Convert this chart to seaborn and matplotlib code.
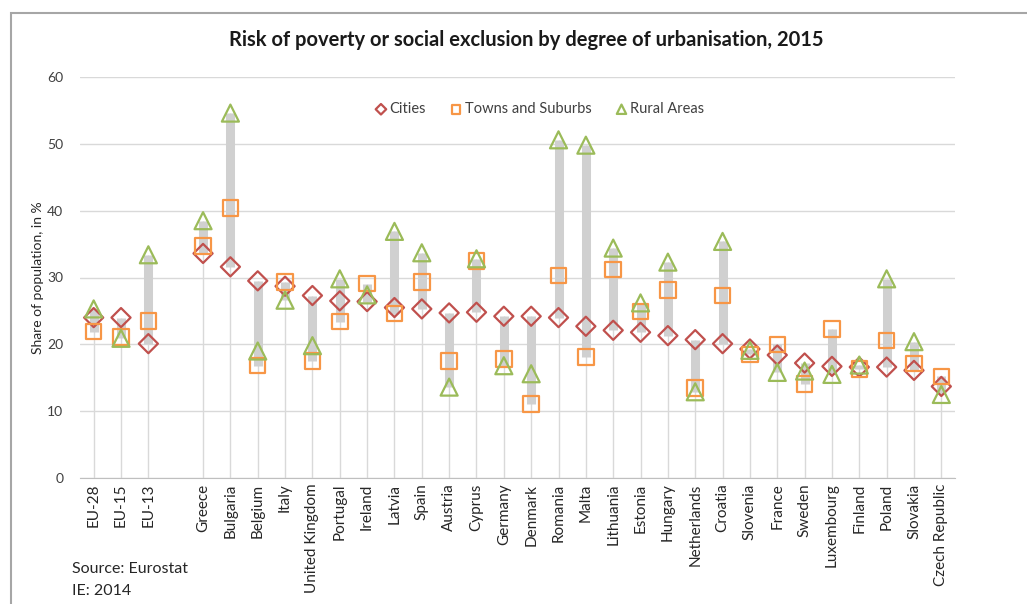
import numpy as np
import pandas as pd
import matplotlib
matplotlib.use("Agg")
import matplotlib.pyplot as plt
from matplotlib.patches import Rectangle
import seaborn as sns

# data (share of population at risk of poverty or social exclusion, %)
countries = ["EU-28", "EU-15", "EU-13", "", "Greece", "Bulgaria", "Belgium", "Italy",
             "United Kingdom", "Portugal", "Ireland", "Latvia", "Spain", "Austria",
             "Cyprus", "Germany", "Denmark", "Romania", "Malta", "Lithuania", "Estonia",
             "Hungary", "Netherlands", "Croatia", "Slovenia", "France", "Sweden",
             "Luxembourg", "Finland", "Poland", "Slovakia", "Czech Republic"]
cities = [24.0, 24.0, 20.1, np.nan, 33.6, 31.6, 29.5, 28.7, 27.3, 26.5, 26.4, 25.5,
          25.3, 24.7, 24.8, 24.2, 24.2, 24.0, 22.7, 22.1, 21.8, 21.3, 20.7, 20.1,
          19.3, 18.4, 17.2, 16.7, 16.6, 16.6, 16.1, 13.7]
towns = [21.9, 21.1, 23.5, np.nan, 34.7, 40.4, 16.8, 29.3, 17.5, 23.4, 29.1, 24.6,
         29.3, 17.5, 32.5, 17.8, 11.1, 30.3, 18.1, 31.2, 24.9, 28.1, 13.5, 27.3,
         18.5, 20.0, 14.1, 22.3, 16.3, 20.6, 17.1, 15.2]
rural = [25.3, 20.9, 33.4, np.nan, 38.5, 54.6, 19.0, 26.6, 19.8, 29.8, 27.4, 36.9,
         33.7, 13.6, 32.8, 16.8, 15.6, 50.6, 49.8, 34.4, 26.2, 32.3, 12.9, 35.4,
         19.1, 15.8, 16.0, 15.5, 16.9, 29.8, 20.4, 12.5]

df = pd.DataFrame({"country": countries, "Cities": cities,
                   "Towns and Suburbs": towns, "Rural Areas": rural})
df["pos"] = np.arange(len(df))
df["low"] = df[["Cities", "Towns and Suburbs", "Rural Areas"]].min(axis=1)
df["high"] = df[["Cities", "Towns and Suburbs", "Rural Areas"]].max(axis=1)

sns.set_style("white")
plt.rcParams["font.family"] = ["Lato", "DejaVu Sans"]

fig = plt.figure(figsize=(10.27, 6.04), dpi=100)
ax = fig.add_axes([80 / 1027, 1 - 478 / 604, 875 / 1027, 401 / 604])

pts = df.dropna(subset=["high"])
# drop lines and high-low bars
ax.vlines(pts["pos"], 0, pts["high"], color="#D9D9D9", lw=1, zorder=1)
ax.vlines(pts["pos"], pts["low"], pts["high"], color="#D0D0D0", lw=6.5, zorder=2)

styles = [("Cities", "D", "#C0504D", 95),
          ("Towns and Suburbs", "s", "#F79646", 125),
          ("Rural Areas", "^", "#9BBB59", 150)]
for col, mk, c, sz in styles:
    sns.scatterplot(data=pts, x="pos", y=col, marker=mk, s=sz, facecolor="none",
                    edgecolor=c, linewidth=1.6, label=col, ax=ax, zorder=3)

ax.set_xlim(-0.5, len(countries) - 0.5)
ax.set_ylim(0, 60)
ax.set_yticks(range(0, 61, 10))
ax.set_xticks(df["pos"])
ax.set_xticklabels(countries, rotation=90, fontsize=11, color="#262626")
ax.tick_params(axis="x", length=0, pad=4)
ax.tick_params(axis="y", length=0, pad=12, labelsize=10, labelcolor="#404040")
ax.yaxis.grid(True, color="#D9D9D9", lw=1)
ax.set_axisbelow(True)
for s in ["top", "right", "left"]:
    ax.spines[s].set_visible(False)
ax.spines["bottom"].set_color("#BFBFBF")
ax.set_xlabel("")
ax.set_ylabel("Share of population, in %", fontsize=10, color="#262626", labelpad=2)

ax.legend(loc="center", bbox_to_anchor=(0.525, 0.92), ncol=3, frameon=False,
          fontsize=10.5, markerscale=0.55, handlelength=0.9, handletextpad=0.15,
          columnspacing=1.6, labelcolor="#404040")

fig.text(526 / 1027, 1 - 40 / 604, "Risk of poverty or social exclusion by degree of urbanisation, 2015",
         ha="center", va="center", fontsize=14.5, fontweight="bold", color="#1a1a1a")
fig.text(72 / 1027, 1 - 569 / 604, "Source: Eurostat", ha="left", va="center",
         fontsize=11.5, color="#262626")
fig.text(72 / 1027, 1 - 591 / 604, "IE: 2014", ha="left", va="center",
         fontsize=11.5, color="#262626")

fig.add_artist(Rectangle((11 / 1027, -0.1), 1.2, 1.1 - 13 / 604, transform=fig.transFigure,
                         fill=False, edgecolor="#A6A6A6", lw=1.5))

fig.savefig("out.png", dpi=100)
